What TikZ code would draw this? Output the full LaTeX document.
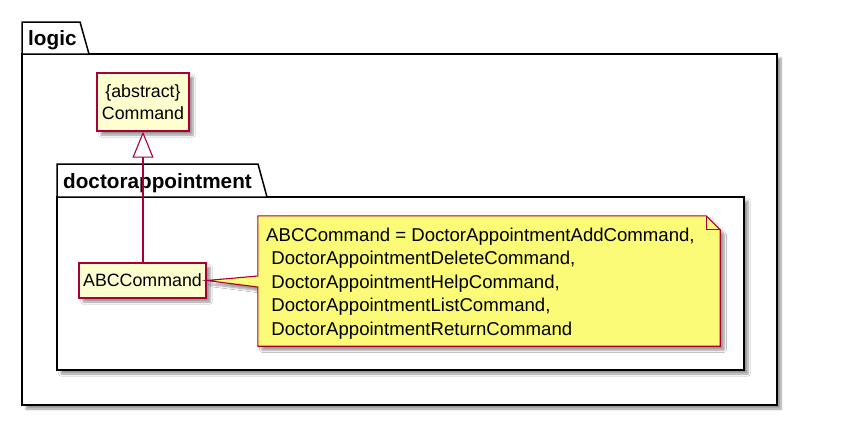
\documentclass[tikz,border=0pt]{standalone}
\usepackage{fontspec}
\setmainfont{Liberation Sans}
\usetikzlibrary{arrows.meta,shadows.blur}
\definecolor{umlred}{HTML}{A80036}
\definecolor{classfill}{HTML}{FEFECE}
\definecolor{notefill}{HTML}{FBFB77}
\tikzset{
 shd/.style={blur shadow={shadow xshift=4pt,shadow yshift=-4pt,shadow blur steps=6,shadow opacity=40}},
 classbox/.style={draw=umlred, fill=classfill, line width=1.3pt, shd, inner sep=0pt, font=\fontsize{17.8}{22}\selectfont, align=center},
 pkgbody/.style={draw=black, fill=white, line width=1.5pt, shd},
 pkgtab/.style={draw=black, fill=white, line width=1.5pt, line join=miter},
 pkglabel/.style={font=\bfseries\fontsize{20.7}{24}\selectfont, anchor=base west, inner sep=0pt},
 notebody/.style={draw=umlred, fill=notefill, line width=1.1pt, shd},
 notetext/.style={font=\fontsize{18.6}{23.5}\selectfont, align=left, anchor=north west, inner sep=0pt},
 gen/.style={draw=umlred, line width=1.1pt, -{Triangle[open,length=26pt,width=21pt,fill=white]}},
}
\begin{document}
\begin{tikzpicture}[x=1pt,y=-1pt]
\useasboundingbox (0,0) rectangle (860,424);
% logic package
\draw[pkgbody] (22,54) rectangle (777,405);
\draw[pkgtab] (22,54) -- (22,22) -- (80,22) -- (89,54) -- cycle;
\node[pkglabel] (logiclbl) at (28,45) {logic};
% doctorappointment package
\draw[pkgbody] (57,197) rectangle (744,370);
\draw[pkgtab] (57,197) -- (57,164) -- (258,164) -- (267,197) -- cycle;
\node[pkglabel] (dalbl) at (63,188) {doctorappointment};
% classes
\node[classbox, minimum width=92pt, minimum height=58pt] (cmd) at (143,102) {\{abstract\}\\Command};
\node[classbox, minimum width=127pt, minimum height=35pt] (abc) at (142.5,280.5) {ABCCommand};
% generalization
\draw[gen] (abc.north -| cmd.south) -- (cmd.south);
% note
\node[minimum width=462pt, minimum height=130pt, inner sep=0pt] (note) at (489,281) {};
\draw[notebody] (note.north west) -- ([xshift=-14pt]note.north east) -- ([yshift=-14pt]note.north east)
  -- (note.south east) -- (note.south west) -- ([yshift=-6pt]note.west) -- (abc.east)
  -- ([yshift=5pt]note.west) -- cycle;
\draw[umlred, line width=1.1pt] ([xshift=-14pt]note.north east) -- ([xshift=-14pt,yshift=-14pt]note.north east) -- ([yshift=-14pt]note.north east);
\node[notetext] (notetxt) at (266,227.5) {ABCCommand = DoctorAppointmentAddCommand,\\
\hspace*{0.28em}DoctorAppointmentDeleteCommand,\\
\hspace*{0.28em}DoctorAppointmentHelpCommand,\\
\hspace*{0.28em}DoctorAppointmentListCommand,\\
\hspace*{0.28em}DoctorAppointmentReturnCommand};
\end{tikzpicture}
\end{document}
